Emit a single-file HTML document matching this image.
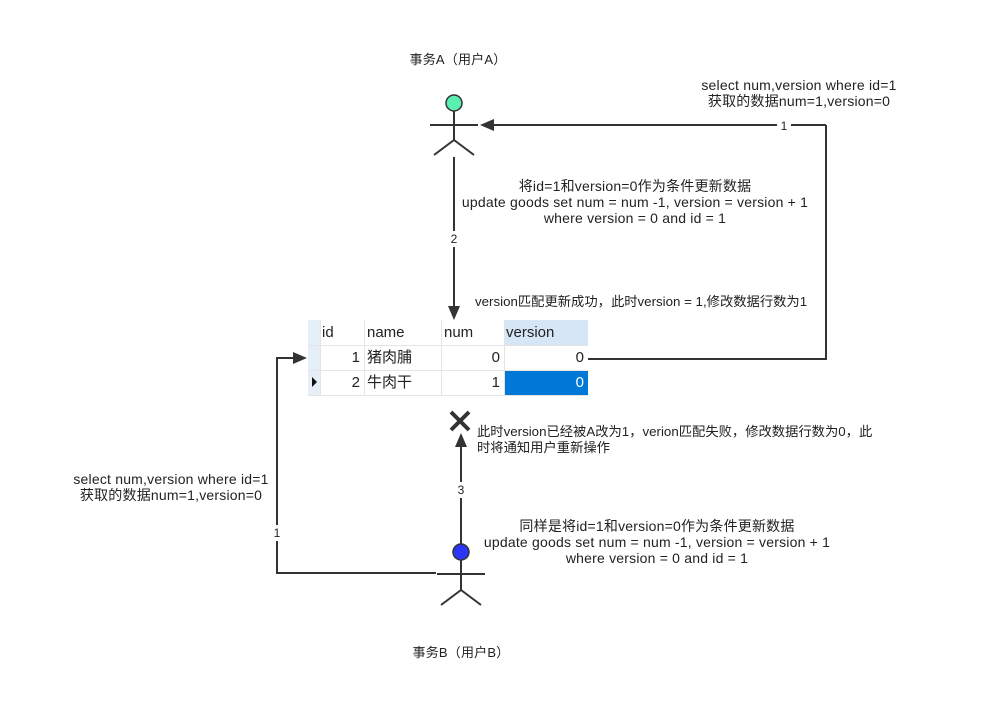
<!DOCTYPE html>
<html><head><meta charset="utf-8"><style>
html,body{margin:0;padding:0;background:#fff;}
body{width:985px;height:723px;position:relative;overflow:hidden;font-family:"Liberation Sans","Noto Sans CJK SC",sans-serif;color:#222;}
.t{position:absolute;font-size:14px;letter-spacing:0.2px;line-height:16px;text-align:center;white-space:nowrap;}
.n{position:absolute;font-size:12px;line-height:16px;text-align:center;background:#fff;}
.c{position:absolute;font-size:15px;line-height:24px;box-sizing:border-box;}
</style></head><body>
<svg width="985" height="723" style="position:absolute;left:0;top:0">
<g stroke="#333" stroke-width="2" fill="none">
<line x1="430" y1="125" x2="478" y2="125"/>
<line x1="454" y1="111" x2="454" y2="140"/>
<line x1="454" y1="140" x2="434" y2="155"/>
<line x1="454" y1="140" x2="474" y2="155"/>
<line x1="454" y1="157" x2="454" y2="308"/>
<polyline points="826,125 826,359 588,359"/>
<line x1="826" y1="125" x2="492" y2="125"/>
<line x1="437" y1="574" x2="485" y2="574"/>
<line x1="461" y1="560" x2="461" y2="590"/>
<line x1="461" y1="590" x2="441" y2="605"/>
<line x1="461" y1="590" x2="481" y2="605"/>
<line x1="461" y1="544" x2="461" y2="445"/>
<polyline points="436,573 277,573 277,358 295,358"/>
<line x1="451" y1="412" x2="469" y2="430" stroke-width="4"/>
<line x1="469" y1="412" x2="451" y2="430" stroke-width="4"/>
</g>
<g fill="#333">
<polygon points="480,125 494,119 494,131"/>
<polygon points="454,320 448,306 460,306"/>
<polygon points="461,433 455,447 467,447"/>
<polygon points="307,358 293,352 293,364"/>
</g>
<circle cx="454" cy="103" r="8" fill="#5af0b0" stroke="#333" stroke-width="1.5"/>
<circle cx="461" cy="552" r="8" fill="#2a35f5" stroke="#333" stroke-width="1.5"/>
<rect x="308" y="320" width="280" height="75" fill="#fff"/>
<rect x="308" y="320" width="12" height="75" fill="#e6eef7"/>
<rect x="504" y="320" width="84" height="25" fill="#d6e6f7"/>
<rect x="504" y="371" width="84" height="24" fill="#0078d7"/>
<g stroke="#e4e4e4" stroke-width="1">
<line x1="308" y1="345.5" x2="588" y2="345.5"/>
<line x1="308" y1="370.5" x2="588" y2="370.5"/>
<line x1="308" y1="395.5" x2="588" y2="395.5"/>
<line x1="320.5" y1="320" x2="320.5" y2="395"/>
<line x1="364.5" y1="320" x2="364.5" y2="395"/>
<line x1="441.5" y1="320" x2="441.5" y2="395"/>
<line x1="504.5" y1="320" x2="504.5" y2="395"/>
</g>
<polygon points="312,377 317,382 312,387" fill="#111"/>
</svg>
<div class="t" style="left:383px;top:52px;width:150px;font-size:13px;">事务A（用户A）</div>
<div class="t" style="left:381px;top:645px;width:160px;font-size:13px;">事务B（用户B）</div>
<div class="t" style="left:674px;top:77px;width:250px;">select num,version where id=1<br>获取的数据num=1,version=0</div>
<div class="t" style="left:46px;top:471px;width:250px;">select num,version where id=1<br>获取的数据num=1,version=0</div>
<div class="t" style="left:435px;top:178px;width:400px;">将id=1和version=0作为条件更新数据<br>update goods set num = num -1, version = version + 1<br>where version = 0 and id = 1</div>
<div class="t" style="left:457px;top:518px;width:400px;">同样是将id=1和version=0作为条件更新数据<br>update goods set num = num -1, version = version + 1<br>where version = 0 and id = 1</div>
<div class="t" style="left:475px;top:294px;width:360px;text-align:left;font-size:13.3px;letter-spacing:0;">version匹配更新成功，此时version = 1,修改数据行数为1</div>
<div class="t" style="left:477px;top:424px;width:420px;text-align:left;font-size:13.3px;letter-spacing:0;">此时version已经被A改为1，verion匹配失败，修改数据行数为0，此<br>时将通知用户重新操作</div>
<div class="n" style="left:777px;top:118px;width:14px;">1</div>
<div class="n" style="left:447px;top:231px;width:14px;">2</div>
<div class="n" style="left:454px;top:482px;width:14px;">3</div>
<div class="n" style="left:270px;top:525px;width:14px;">1</div>
<div class="c" style="left:322px;top:321px;">id</div>
<div class="c" style="left:367px;top:321px;">name</div>
<div class="c" style="left:444px;top:321px;">num</div>
<div class="c" style="left:506px;top:321px;">version</div>
<div class="c" style="left:320px;top:346px;width:40px;text-align:right;">1</div>
<div class="c" style="left:367px;top:346px;">猪肉脯</div>
<div class="c" style="left:441px;top:346px;width:59px;text-align:right;">0</div>
<div class="c" style="left:504px;top:346px;width:80px;text-align:right;">0</div>
<div class="c" style="left:320px;top:371px;width:40px;text-align:right;">2</div>
<div class="c" style="left:367px;top:371px;">牛肉干</div>
<div class="c" style="left:441px;top:371px;width:59px;text-align:right;">1</div>
<div class="c" style="left:504px;top:371px;width:80px;text-align:right;color:#fff;">0</div>
</body></html>
